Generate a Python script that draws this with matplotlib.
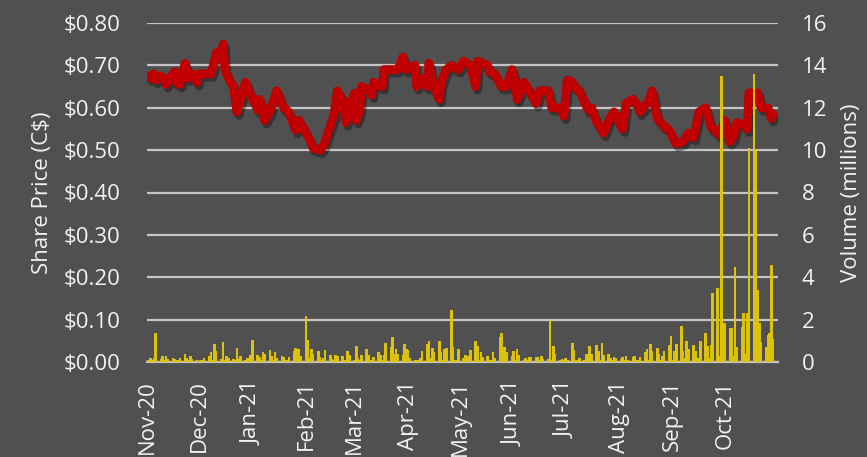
import pandas as pd
import matplotlib
matplotlib.use('Agg')
import matplotlib.pyplot as plt
import matplotlib.dates as mdates
import matplotlib.patheffects as pe

# share price (C$)
price_dates = [
    '2020-11-02', '2020-11-03', '2020-11-05', '2020-11-06', '2020-11-09', '2020-11-11',
    '2020-11-12', '2020-11-16', '2020-11-17', '2020-11-18', '2020-11-20', '2020-11-23',
    '2020-11-24', '2020-11-25', '2020-11-27', '2020-11-30', '2020-12-01', '2020-12-04',
    '2020-12-08', '2020-12-10', '2020-12-11', '2020-12-14', '2020-12-15', '2020-12-16',
    '2020-12-18', '2020-12-21', '2020-12-23', '2020-12-28', '2020-12-30', '2021-01-04',
    '2021-01-05', '2021-01-07', '2021-01-08', '2021-01-11', '2021-01-15', '2021-01-19',
    '2021-01-22', '2021-01-26', '2021-01-28', '2021-02-01', '2021-02-03', '2021-02-05',
    '2021-02-09', '2021-02-11', '2021-02-16', '2021-02-17', '2021-02-19', '2021-02-22',
    '2021-02-23', '2021-02-24', '2021-02-26', '2021-03-01', '2021-03-02', '2021-03-04',
    '2021-03-05', '2021-03-10', '2021-03-11', '2021-03-12', '2021-03-17', '2021-03-18',
    '2021-03-23', '2021-03-26', '2021-03-29', '2021-03-31', '2021-04-05', '2021-04-06',
    '2021-04-08', '2021-04-12', '2021-04-13', '2021-04-15', '2021-04-19', '2021-04-20',
    '2021-04-23', '2021-04-26', '2021-04-30', '2021-05-03', '2021-05-07', '2021-05-10',
    '2021-05-11', '2021-05-17', '2021-05-18', '2021-05-21', '2021-05-25', '2021-05-28',
    '2021-05-31', '2021-06-02', '2021-06-03', '2021-06-07', '2021-06-10', '2021-06-14',
    '2021-06-16', '2021-06-21', '2021-06-23', '2021-06-28', '2021-06-30', '2021-07-02',
    '2021-07-05', '2021-07-06', '2021-07-09', '2021-07-14', '2021-07-16', '2021-07-19',
    '2021-07-20', '2021-07-23', '2021-07-26', '2021-07-29', '2021-08-03', '2021-08-05',
    '2021-08-09', '2021-08-11', '2021-08-13', '2021-08-18', '2021-08-20', '2021-08-23',
    '2021-08-26', '2021-08-30', '2021-09-01', '2021-09-03', '2021-09-07', '2021-09-10',
    '2021-09-13', '2021-09-16', '2021-09-20', '2021-09-23', '2021-09-27', '2021-09-28',
    '2021-10-01', '2021-10-04', '2021-10-06', '2021-10-08', '2021-10-12', '2021-10-14',
    '2021-10-15', '2021-10-20', '2021-10-22', '2021-10-26', '2021-10-28', '2021-10-29',
]
price_values = [
    0.675, 0.67, 0.68, 0.665, 0.675, 0.67,
    0.655, 0.68, 0.685, 0.66, 0.655, 0.705,
    0.69, 0.67, 0.68, 0.66, 0.68, 0.68,
    0.68, 0.71, 0.73, 0.72, 0.75, 0.69,
    0.67, 0.65, 0.59, 0.66, 0.64, 0.595,
    0.62, 0.60, 0.57, 0.59, 0.64, 0.60,
    0.59, 0.547, 0.57, 0.54, 0.525, 0.505,
    0.50, 0.51, 0.57, 0.58, 0.64, 0.62,
    0.60, 0.565, 0.60, 0.635, 0.57, 0.595,
    0.65, 0.64, 0.63, 0.66, 0.65, 0.69,
    0.69, 0.69, 0.72, 0.69, 0.70, 0.65,
    0.67, 0.65, 0.705, 0.66, 0.62, 0.66,
    0.69, 0.70, 0.69, 0.71, 0.70, 0.65,
    0.71, 0.70, 0.685, 0.68, 0.65, 0.65,
    0.69, 0.66, 0.62, 0.66, 0.64, 0.61,
    0.64, 0.64, 0.60, 0.60, 0.58, 0.665,
    0.66, 0.65, 0.64, 0.595, 0.60, 0.565,
    0.56, 0.54, 0.57, 0.59, 0.55, 0.61,
    0.62, 0.61, 0.59, 0.615, 0.64, 0.575,
    0.56, 0.547, 0.53, 0.515, 0.52, 0.54,
    0.53, 0.59, 0.60, 0.555, 0.54, 0.535,
    0.57, 0.52, 0.53, 0.565, 0.56, 0.55,
    0.635, 0.635, 0.60, 0.60, 0.575, 0.585,
]

# daily volume (millions), one value per trading day from 2 Nov 2020
volume_start = '2020-11-02'
volume_values = [
    0.1, 0.2, 0.1, 0.2, 1.37, 0.15, 0.3, 0.1, 0.3, 0.15,
    0.2, 0.15, 0.1, 0.1, 0.2, 0.4, 0.2, 0.1, 0.3, 0.15,
    0.1, 0.05, 0.1, 0.1, 0.2, 0.3, 0.45, 0.1, 0.85, 0.5,
    0.15, 0.95, 0.1, 0.3, 0.2, 0.15, 0.1, 0.65, 0.15, 0.3,
    0.1, 0.2, 0.1, 0.35, 1.05, 0.35, 0.25, 0.1, 0.45, 0.4,
    0.55, 0.3, 0.1, 0.45, 0.2, 0.3, 0.25, 0.1, 0.1, 0.25,
    0.5, 0.65, 0.6, 0.6, 0.3, 2.17, 1.04, 0.2, 0.6, 0.4,
    0.5, 0.25, 0.1, 0.2, 0.55, 0.35, 0.15, 0.1, 0.35, 0.3,
    0.3, 0.1, 0.1, 0.5, 0.35, 0.1, 0.75, 0.2, 0.1, 0.35,
    0.6, 0.35, 0.1, 0.1, 0.25, 0.45, 0.35, 0.1, 0.35, 0.9,
    0.7, 1.2, 0.4, 0.6, 0.4, 0.35, 0.85, 0.6, 0.55, 0.2,
    0.1, 0.1, 0.1, 0.2, 0.5, 0.85, 1.0, 0.2, 0.65, 0.45,
    1.0, 0.45, 0.1, 0.6, 0.65, 2.45, 0.7, 0.1, 0.1, 0.6,
    0.2, 0.35, 0.1, 0.3, 0.55, 1.0, 0.75, 0.1, 0.45, 0.25,
    0.3, 0.1, 0.1, 0.45, 0.2, 1.2, 1.35, 0.7, 0.7, 0.45,
    0.3, 0.5, 0.1, 0.6, 0.35, 0.1, 0.2, 0.1, 0.25, 0.25,
    0.25, 0.25, 0.1, 0.3, 0.15, 0.15, 2.0, 0.1, 0.75, 0.4,
    0.1, 0.15, 0.1, 0.2, 0.1, 0.9, 0.55, 0.1, 0.1, 0.2,
    0.1, 0.4, 0.1, 0.75, 0.4, 0.8, 0.5, 0.1, 0.9, 0.35,
    0.4, 0.2, 0.1, 0.25, 0.2, 0.15, 0.25, 0.1, 0.3, 0.1,
    0.25, 0.3, 0.1, 0.1, 0.25, 0.45, 0.6, 0.1, 0.85, 0.5,
    0.65, 0.4, 0.1, 0.3, 0.5, 0.8, 1.25, 0.1, 0.5, 0.85,
    1.7, 0.5, 0.2, 1.0, 0.6, 0.8, 0.5, 0.1, 0.2, 1.0,
    1.35, 0.75, 0.2, 0.8, 3.25, 3.5, 0.3, 13.5, 1.2, 1.84,
    1.6, 1.6, 0.3, 4.5, 0.7, 1.65, 2.3, 0.4, 2.3, 10.1,
    13.6, 10.0, 3.4, 1.84, 0.95, 0.7, 1.27, 1.37, 4.6, 1.1,
]

price_ticks = [0.0, 0.1, 0.2, 0.3, 0.4, 0.5, 0.6, 0.7, 0.8]
volume_ticks = [0, 2, 4, 6, 8, 10, 12, 14, 16]

BG = '#505050'
TXT = '#f2f2f2'
GRID = '#c4c4c4'
FS = 16
plt.rcParams['font.family'] = ['Open Sans', 'DejaVu Sans']

p_dates = pd.to_datetime(price_dates)
v_dates = pd.bdate_range(volume_start, periods=len(volume_values))

fig = plt.figure(figsize=(8.67, 4.57), dpi=100, facecolor=BG)
ax = fig.add_axes([147 / 867, 95 / 457, 631 / 867, 339 / 457])
ax.set_facecolor(BG)
ax2 = ax.twinx()

# volume bars (secondary axis, drawn on top)
ax2.bar(v_dates, volume_values, width=1.5, color='#dcc20a', linewidth=0)

# share price line
ax.plot(p_dates, price_values, color='#c00000', lw=6.3, solid_joinstyle='round',
        solid_capstyle='round',
        path_effects=[pe.SimpleLineShadow(offset=(1.5, -2.5), shadow_color='black', alpha=0.35),
                      pe.Normal()])

ax.set_ylim(0, 0.8)
ax2.set_ylim(0, 16)
ax.set_yticks(price_ticks)
ax.set_yticklabels([f'${t:.2f}' for t in price_ticks])
ax2.set_yticks(volume_ticks)
ax2.set_yticklabels([str(t) for t in volume_ticks])

ax.set_xlim(pd.Timestamp('2020-11-01'), pd.Timestamp('2021-10-31 20:00'))
ax.xaxis.set_major_locator(mdates.MonthLocator())
ax.xaxis.set_major_formatter(mdates.DateFormatter('%b-%y'))

ax.grid(axis='y', color=GRID, lw=1.6)
ax.grid(axis='x', visible=False)
ax.set_axisbelow(True)

for a in (ax, ax2):
    for s in a.spines.values():
        s.set_visible(False)
ax.spines['bottom'].set_visible(True)
ax.spines['bottom'].set_color(GRID)
ax.spines['bottom'].set_linewidth(1.6)

ax.tick_params(axis='y', length=0, pad=19, labelsize=FS, labelcolor=TXT)
ax.tick_params(axis='x', length=0, pad=13, labelsize=FS, labelcolor=TXT, labelrotation=90)
ax2.tick_params(axis='y', length=0, pad=17, labelsize=FS, labelcolor=TXT)
for lbl in ax.get_xticklabels():
    lbl.set_va('top')

ax.set_ylabel('Share Price (C$)', fontsize=FS, color=TXT, labelpad=8)
ax2.set_ylabel('Volume (millions)', fontsize=FS, color=TXT, rotation=90, labelpad=10)

plt.savefig('out.png', dpi=100, facecolor=BG)
